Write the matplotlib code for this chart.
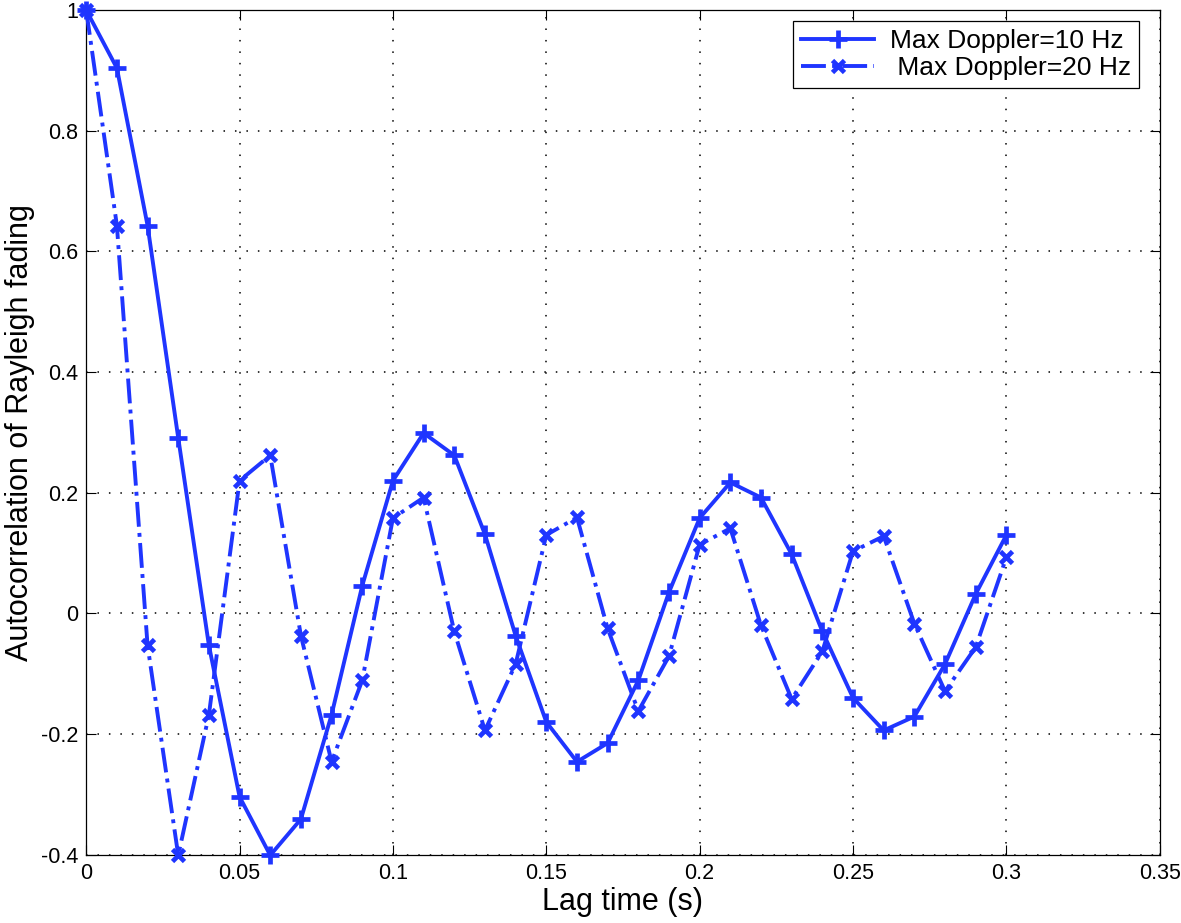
import numpy as np
import matplotlib.pyplot as plt

plt.rcParams['font.family'] = ['Liberation Sans', 'DejaVu Sans']

# lag times (s)
lag = [0.00, 0.01, 0.02, 0.03, 0.04, 0.05, 0.06, 0.07, 0.08, 0.09, 0.10,
       0.11, 0.12, 0.13, 0.14, 0.15, 0.16, 0.17, 0.18, 0.19, 0.20,
       0.21, 0.22, 0.23, 0.24, 0.25, 0.26, 0.27, 0.28, 0.29, 0.30]

# autocorrelation, max Doppler 10 Hz
acf_10 = [1.000, 0.904, 0.643, 0.291, -0.053, -0.304, -0.401, -0.341, -0.168, 0.046, 0.220,
          0.299, 0.262, 0.131, -0.037, -0.180, -0.246, -0.215, -0.111, 0.035, 0.158,
          0.217, 0.192, 0.098, -0.030, -0.140, -0.194, -0.171, -0.084, 0.032, 0.130]

# autocorrelation, max Doppler 20 Hz
acf_20 = [1.000, 0.643, -0.053, -0.401, -0.168, 0.220, 0.262, -0.037, -0.246, -0.111, 0.158,
          0.192, -0.030, -0.194, -0.084, 0.130, 0.159, -0.025, -0.162, -0.071, 0.114,
          0.141, -0.020, -0.142, -0.063, 0.103, 0.128, -0.017, -0.129, -0.056, 0.093]

x_ticks = [0, 0.05, 0.1, 0.15, 0.2, 0.25, 0.3, 0.35]
x_tick_labels = ['0', '0.05', '0.1', '0.15', '0.2', '0.25', '0.3', '0.35']
y_ticks = [-0.4, -0.2, 0, 0.2, 0.4, 0.6, 0.8, 1]
y_tick_labels = ['-0.4', '-0.2', '0', '0.2', '0.4', '0.6', '0.8', '1']

blue = '#1f35ff'

fig = plt.figure(figsize=(11.81, 9.23), dpi=100)
ax = fig.add_axes([0.073, 0.074, 0.909, 0.915])

ax.plot(lag, acf_10, '-', color=blue, lw=2.8, marker='+', ms=13, mew=3.4,
        label='Max Doppler=10 Hz', clip_on=False, zorder=3)
ax.plot(lag, acf_20, '-.', color=blue, lw=2.8, marker='x', ms=9, mew=3.4,
        label=' Max Doppler=20 Hz', clip_on=False, zorder=3)

ax.set_xlim(0, 0.35)
ax.set_ylim(-0.4, 1)
ax.set_xticks(x_ticks)
ax.set_xticklabels(x_tick_labels)
ax.set_yticks(y_ticks)
ax.set_yticklabels(y_tick_labels)
ax.tick_params(direction='in', top=True, right=True, length=7, width=0.8,
               labelsize=15.5, pad=6)
ax.grid(True, color='black', linestyle=(0, (1, 6.5)), linewidth=1.1)
for s in ax.spines.values():
    s.set_linewidth(0.9)

ax.set_xlabel('Lag time (s)', fontsize=22, labelpad=2)
ax.set_ylabel('Autocorrelation of Rayleigh fading', fontsize=22, labelpad=4)

leg = ax.legend(loc='upper right', fontsize=19, fancybox=False, framealpha=1,
                edgecolor='black', handlelength=2.8, handletextpad=0.6,
                borderpad=0.3, labelspacing=0.12, borderaxespad=0,
                bbox_to_anchor=(0.981, 0.987))
leg.get_frame().set_linewidth(0.9)

fig.savefig('out.png', dpi=100)
